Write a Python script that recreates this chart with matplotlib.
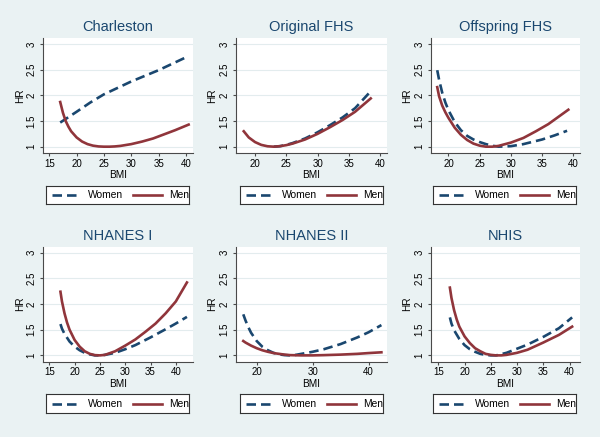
import matplotlib
matplotlib.use("Agg")
import matplotlib.pyplot as plt
from matplotlib.lines import Line2D

plt.rcParams['font.family'] = ['Liberation Sans', 'DejaVu Sans']

# ---------------- data ----------------
titles = ["Charleston", "Original FHS", "Offspring FHS", "NHANES I", "NHANES II", "NHIS"]
legend_labels = ["Women", "Men"]
y_ticks = [1, 1.5, 2, 2.5, 3]
y_ticklabels = ["1", "1.5", "2", "2.5", "3"]
x_ticks = [[15, 20, 25, 30, 35, 40], [20, 25, 30, 35, 40], [20, 25, 30, 35, 40],
           [15, 20, 25, 30, 35, 40], [20, 30, 40], [15, 20, 25, 30, 35, 40]]

charleston_women_x = [17, 20, 22.5, 25, 30, 35, 40]
charleston_women_y = [1.47, 1.68, 1.86, 2.02, 2.27, 2.49, 2.74]
charleston_men_x = [17, 17.5, 18, 18.5, 19, 20, 21, 22, 23, 24, 25, 26, 27, 28, 30, 32, 34, 36, 38, 40.5]
charleston_men_y = [1.87, 1.66, 1.50, 1.39, 1.30, 1.18, 1.10, 1.05, 1.02, 1.005, 1.0, 1.0, 1.005, 1.015,
                    1.05, 1.10, 1.16, 1.24, 1.32, 1.43]

ofhs_women_x = [23, 24, 25, 26, 28, 30, 32, 34, 36, 38.5]
ofhs_women_y = [1.0, 1.01, 1.035, 1.07, 1.16, 1.28, 1.42, 1.57, 1.75, 2.08]
ofhs_men_x = [18.2, 19, 20, 21, 22, 23, 24, 25, 26, 28, 30, 32, 34, 36, 38.5]
ofhs_men_y = [1.30, 1.18, 1.09, 1.035, 1.008, 1.0, 1.01, 1.03, 1.06, 1.14, 1.25, 1.38, 1.52, 1.68, 1.94]

offs_women_x = [18.2, 18.5, 19, 19.5, 20, 21, 22, 23, 24, 25, 26, 27, 28, 30, 32, 35, 37, 39]
offs_women_y = [2.49, 2.30, 2.05, 1.86, 1.71, 1.48, 1.32, 1.21, 1.14, 1.09, 1.05, 1.02, 1.0, 1.01,
                1.05, 1.14, 1.22, 1.31]
offs_men_x = [18.2, 18.5, 19, 19.5, 20, 21, 22, 23, 24, 25, 26, 27, 28, 30, 32, 34, 36, 39.2]
offs_men_y = [2.16, 1.98, 1.80, 1.67, 1.56, 1.37, 1.23, 1.13, 1.06, 1.02, 1.0, 1.0, 1.015, 1.08,
              1.17, 1.30, 1.44, 1.72]

nh1_women_x = [17.2, 17.5, 18, 19, 20, 21, 22, 23, 24, 25, 26, 28, 30, 32, 35, 38, 40, 42.2]
nh1_women_y = [1.61, 1.52, 1.42, 1.27, 1.17, 1.10, 1.05, 1.02, 1.0, 1.0, 1.01, 1.05, 1.12, 1.20,
               1.35, 1.51, 1.62, 1.75]
nh1_men_x = [17.2, 17.5, 18, 18.5, 19, 20, 21, 22, 23, 24, 25, 26, 28, 30, 32, 34, 36, 38, 40, 42.2]
nh1_men_y = [2.24, 2.05, 1.82, 1.64, 1.50, 1.30, 1.17, 1.08, 1.03, 1.005, 1.0, 1.01, 1.08, 1.19,
             1.31, 1.46, 1.62, 1.82, 2.05, 2.42]

nh2_women_x = [17.6, 18, 18.5, 19, 20, 21, 22, 23, 24, 25, 26, 27, 28, 30, 32, 35, 38, 40, 42.3]
nh2_women_y = [1.80, 1.68, 1.55, 1.44, 1.28, 1.17, 1.10, 1.05, 1.02, 1.005, 1.0, 1.01, 1.03, 1.07,
               1.12, 1.22, 1.35, 1.45, 1.59]
nh2_men_x = [17.6, 18, 19, 20, 21, 22, 23, 24, 25, 26, 28, 30, 32, 35, 38, 40, 42.3]
nh2_men_y = [1.28, 1.25, 1.19, 1.14, 1.10, 1.07, 1.045, 1.03, 1.015, 1.005, 1.0, 1.0, 1.005, 1.015,
             1.03, 1.045, 1.06]

nhis_women_x = [17.2, 17.5, 18, 19, 20, 21, 22, 23, 24, 25, 26, 28, 30, 32, 35, 38, 40.5]
nhis_women_y = [1.74, 1.62, 1.49, 1.32, 1.20, 1.12, 1.07, 1.03, 1.01, 1.0, 1.0, 1.05, 1.13, 1.21,
                1.36, 1.53, 1.74]
nhis_men_x = [17.2, 17.5, 18, 18.5, 19, 20, 21, 22, 23, 24, 25, 26, 27, 28, 30, 32, 35, 38, 40.5]
nhis_men_y = [2.32, 2.12, 1.88, 1.70, 1.56, 1.37, 1.24, 1.14, 1.08, 1.03, 1.01, 1.0, 1.0, 1.01,
              1.05, 1.11, 1.25, 1.40, 1.56]

women_series = [(charleston_women_x, charleston_women_y), (ofhs_women_x, ofhs_women_y),
                (offs_women_x, offs_women_y), (nh1_women_x, nh1_women_y),
                (nh2_women_x, nh2_women_y), (nhis_women_x, nhis_women_y)]
men_series = [(charleston_men_x, charleston_men_y), (ofhs_men_x, ofhs_men_y),
              (offs_men_x, offs_men_y), (nh1_men_x, nh1_men_y),
              (nh2_men_x, nh2_men_y), (nhis_men_x, nhis_men_y)]

# ---------------- layout / style ----------------
W, H = 600, 437
BG = '#EAF2F3'
NAVY = '#1a476f'
MAROON = '#90353b'
AX_COL = '#4a4a4a'

col_px = [(43, 193), (236, 387), (431, 580)]
row_px = [(38, 153), (246.7, 361.7)]
xlims = [(13.85, 41.3), (16.96, 41.1), (17.2, 41.07), (13.75, 43.4), (16.3, 43.3), (13.6, 42.0)]
ylim = (0.877, 3.117)
legend_col_px = [(46, 189), (240, 383), (433, 576)]
legend_row_px = [(185.7, 204.3), (394, 413.3)]
hr_x_px = [20, 211.7, 406.7]

TICK_FS = 7.0
LAB_FS = 7.2
LEG_FS = 7.4
TITLE_FS = 10.5

fig = plt.figure(figsize=(W / 100, H / 100), dpi=100, facecolor=BG)

dash = (3.6, 1.9)

for i in range(6):
    r, c = divmod(i, 3)
    x0, x1 = col_px[c]
    y0, y1 = row_px[r]
    ax = fig.add_axes([x0 / W, 1 - y1 / H, (x1 - x0) / W, (y1 - y0) / H])
    ax.set_facecolor('white')
    for s in ['top', 'right']:
        ax.spines[s].set_visible(False)
    for s in ['left', 'bottom']:
        ax.spines[s].set_color(AX_COL)
        ax.spines[s].set_linewidth(0.8)
    ax.set_xlim(*xlims[i])
    ax.set_ylim(*ylim)
    ax.set_yticks(y_ticks)
    ax.set_yticklabels(y_ticklabels)
    ax.set_xticks(x_ticks[i])
    ax.set_xticklabels([str(t) for t in x_ticks[i]])
    ax.tick_params(axis='both', colors=AX_COL, labelcolor='black', labelsize=TICK_FS,
                   length=2.2, width=0.8)
    ax.tick_params(axis='y', labelrotation=90, pad=2.5)
    ax.tick_params(axis='x', pad=1.8)
    for lab in ax.get_yticklabels():
        lab.set_va('center')
    ax.grid(axis='y', color='#e3ecee', linewidth=0.8)
    ax.set_axisbelow(True)

    wx, wy = women_series[i]
    mx, my = men_series[i]
    ax.plot(wx, wy, color=NAVY, lw=1.9, dashes=dash, dash_capstyle='butt')
    ax.plot(mx, my, color=MAROON, lw=1.9)

    # title, axis labels
    cx = (x0 + x1) / 2 / W
    fig.text(cx, 1 - (y0 - 11) / H, titles[i], ha='center', va='center', fontsize=TITLE_FS, color=NAVY)
    fig.text(cx, 1 - (y1 + 22.5) / H, "BMI", ha='center', va='center', fontsize=LAB_FS)
    fig.text(hr_x_px[c] / W, 1 - (y0 + y1) / 2 / H, "HR", ha='center', va='center',
             rotation=90, fontsize=LAB_FS)

    # legend box (Stata style, clipped)
    lx0, lx1 = legend_col_px[c]
    ly0, ly1 = legend_row_px[r]
    lax = fig.add_axes([lx0 / W, 1 - ly1 / H, (lx1 - lx0) / W, (ly1 - ly0) / H])
    lax.set_xlim(0, 1)
    lax.set_ylim(0, 1)
    lax.set_xticks([])
    lax.set_yticks([])
    lax.set_facecolor('white')
    for s in lax.spines.values():
        s.set_color('#333333')
        s.set_linewidth(0.8)
    lax.add_line(Line2D([0.04, 0.245], [0.5, 0.5], color=NAVY, lw=1.9, dashes=dash))
    lax.text(0.294, 0.5, legend_labels[0], va='center', ha='left', fontsize=LEG_FS, clip_on=True)
    lax.add_line(Line2D([0.609, 0.814], [0.5, 0.5], color=MAROON, lw=1.9))
    lax.text(0.86, 0.5, legend_labels[1], va='center', ha='left', fontsize=LEG_FS, clip_on=True)

fig.savefig("out.png", dpi=100, facecolor=BG)
